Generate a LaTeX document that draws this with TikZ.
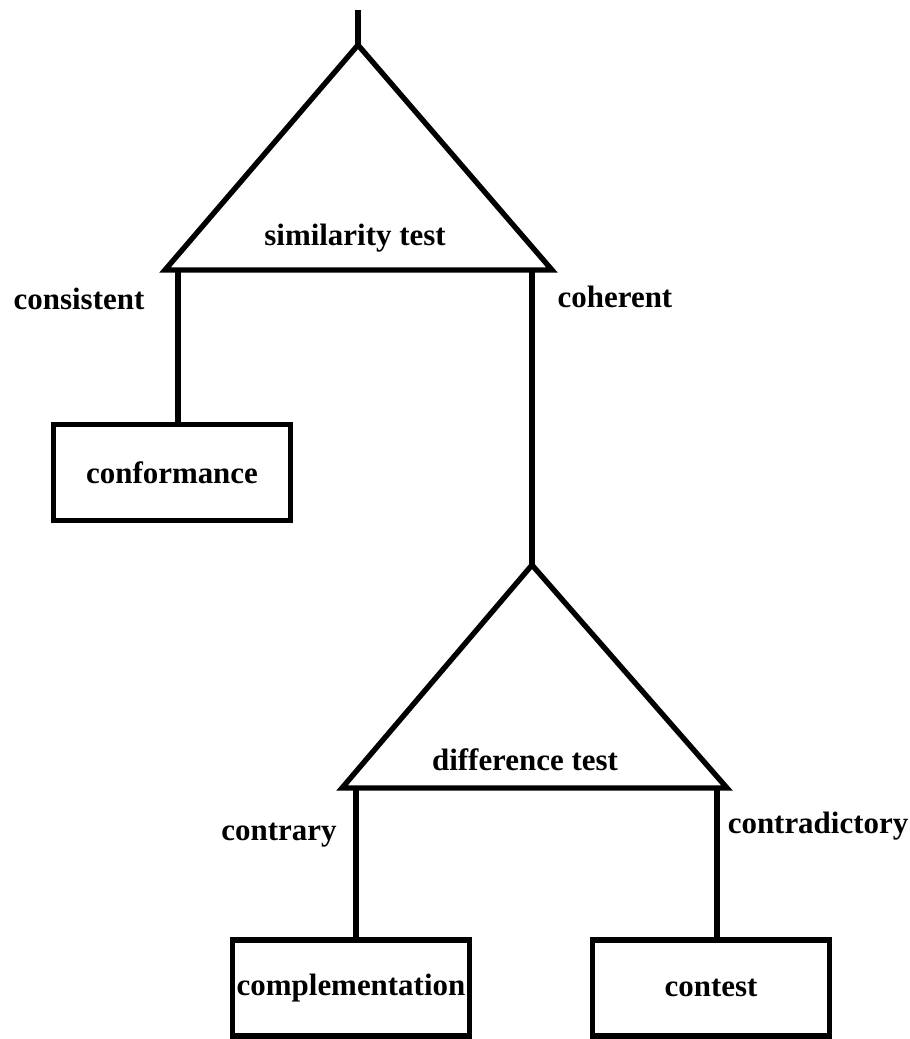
\documentclass[tikz,border=0pt]{standalone}
\usepackage{fontspec}
\setmainfont{Liberation Serif}
\usepackage{tikz}
\usetikzlibrary{positioning}

\begin{document}
\begin{tikzpicture}[x=0.025cm,y=-0.025cm,line width=3.8pt,line join=miter,
	font=\fontsize{22}{26}\selectfont\bfseries,
	box/.style={draw,minimum width=5.92cm,minimum height=2.4cm,inner sep=0pt},
	lbl/.style={anchor=base,inner sep=0pt}]
	\useasboundingbox (0,0) rectangle (909,1039);
	% similarity test
	\coordinate (top) at (358,10);
	\coordinate (s1) at (358,45);
	\coordinate (s2) at (165,270);
	\coordinate (s3) at (552,270);
	\coordinate (s4) at (178,270);
	\coordinate (s5) at (532,270);
	\node[lbl] (simtest) at (355,245) {similarity test};
	\node[lbl] (consistent) at (79,309) {consistent};
	\node[lbl] (coherent) at (615,307) {coherent};
	\node[box] (conf) at (172,472.5) {conformance};
	% difference test
	\coordinate (d1) at (532,565);
	\coordinate (d2) at (342,788);
	\coordinate (d3) at (727,788);
	\coordinate (d4) at (356,788);
	\coordinate (d5) at (717,788);
	\node[lbl] (difftest) at (525,770) {difference test};
	\node[lbl] (contrary) at (279,840) {contrary};
	\node[lbl] (contradictory) at (818,833) {contradictory};
	\node[box] (compl) at (351,988) {complementation};
	\node[box] (cont) at (711,988) {contest};

	\draw (top) -- (s1);
	\draw (s1) -- (s2) -- (s3) -- cycle;
	\draw (s4) -- (s4 |- conf.north);
	\draw (s5) -- (d1);

	\draw (d1) -- (d2) -- (d3) -- cycle;
	\draw (d4) -- (d4 |- compl.north);
	\draw (d5) -- (d5 |- cont.north);
\end{tikzpicture}
\end{document}
